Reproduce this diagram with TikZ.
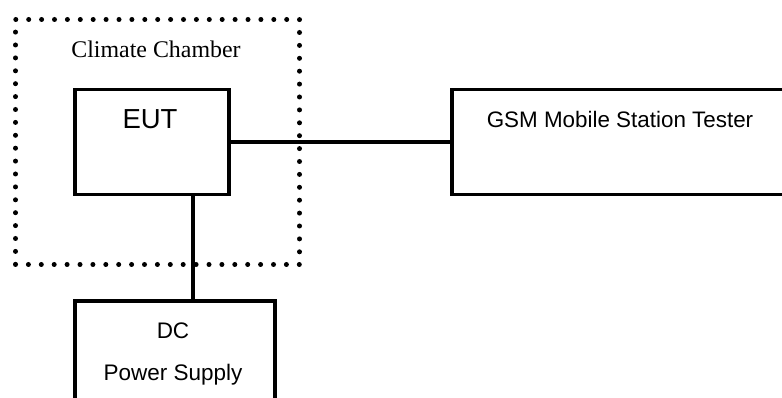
\documentclass[tikz,border=0pt]{standalone}
\usepackage{fontspec}
\setmainfont{Liberation Sans}
\newfontfamily\chamberfont{Liberation Serif}
\begin{document}
\begin{tikzpicture}[x=1pt,y=-1pt,
  box/.style={draw, line width=3.5pt, rectangle, inner sep=0pt, anchor=north west},
  chamberbox/.style={draw, line width=5pt, line cap=round, dash pattern=on 0pt off 12.9pt, rectangle, inner sep=0pt, anchor=north west},
  wire/.style={line width=3.5pt},
  lbl/.style={anchor=base, inner sep=0pt}]
\useasboundingbox (0,0) rectangle (782,398);
\clip (0,0) rectangle (782,398);
\node[chamberbox, minimum width=284pt, minimum height=245pt] (chamber) at (13,17) {};
\node[box, minimum width=154pt, minimum height=105pt] (eut) at (73,88) {};
\node[box, minimum width=340pt, minimum height=105pt] (gsm) at (450,88) {};
\node[box, minimum width=200pt, minimum height=140pt] (dc) at (73,299) {};
\node[lbl, font=\chamberfont\fontsize{23.9}{28}\selectfont] (chambertxt) at (156,58) {Climate Chamber};
\node[lbl, font=\fontsize{27.5}{32}\selectfont] (euttxt) at (150,129) {EUT};
\node[lbl, font=\fontsize{22.4}{26}\selectfont] (gsmtxt) at (620,128) {GSM Mobile Station Tester};
\node[lbl, font=\fontsize{22.5}{26}\selectfont] (dctxt) at (173,338) {DC};
\node[lbl, font=\fontsize{22.5}{26}\selectfont] (pstxt) at (173,380) {Power Supply};
\draw[wire] (eut.east) -- (gsm.west);
\draw[wire] ([xshift=41pt]eut.south) -- ([xshift=41pt]eut.south |- dc.north);
\end{tikzpicture}
\end{document}
